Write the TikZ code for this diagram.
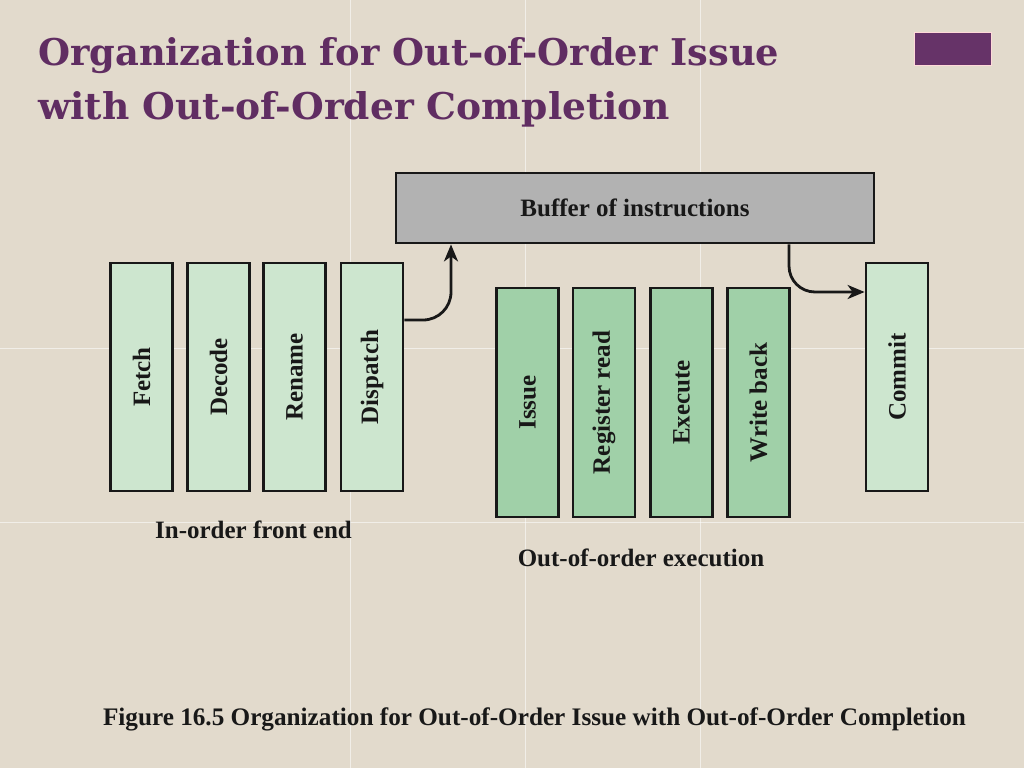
\documentclass[tikz,border=0pt]{standalone}
\usepackage{fontspec}
\setmainfont{Liberation Serif}
\newfontfamily\titlefont{DejaVu Serif}
\usetikzlibrary{arrows.meta}
\definecolor{bgcol}{RGB}{226,218,204}
\definecolor{titlecol}{RGB}{96,45,98}
\definecolor{sqcol}{RGB}{102,51,104}
\definecolor{frontcol}{RGB}{205,230,207}
\definecolor{ooocol}{RGB}{160,208,168}
\definecolor{bufcol}{RGB}{178,178,178}
\definecolor{inkcol}{RGB}{24,24,24}
\tikzset{
  stagebox/.style={draw=inkcol, line width=2.8pt, inner sep=0pt, rotate=90,
    minimum width=228pt, minimum height=62pt, text=inkcol,
    font=\fontsize{25}{29}\selectfont\bfseries},
  frontbox/.style={stagebox, fill=frontcol},
  ooobox/.style={stagebox, fill=ooocol, minimum width=229pt},
  bufbox/.style={draw=inkcol, line width=2.8pt, inner sep=0pt, fill=bufcol,
    minimum width=478pt, minimum height=70pt, text=inkcol,
    font=\fontsize{25}{29}\selectfont\bfseries},
  grouplabel/.style={text=inkcol, inner sep=0pt, anchor=base,
    font=\fontsize{25}{29}\selectfont\bfseries},
  titletext/.style={anchor=base west, inner sep=0pt, text=titlecol},
  arr/.style={draw=inkcol, line width=2.8pt,
    -{Stealth[length=17pt,width=14pt,inset=5pt]}},
  seam/.style={draw=white, line width=1pt, opacity=0.55}
}
\begin{document}
\begin{tikzpicture}[x=1pt,y=1pt]
\fill[bgcol] (0,0) rectangle (1024,-768);
\useasboundingbox (0,0) rectangle (1024,-768);
% background tile seams
\draw[seam] (350,0) -- (350,-768);
\draw[seam] (525,0) -- (525,-768);
\draw[seam] (700,0) -- (700,-768);
\draw[seam] (0,-348) -- (1024,-348);
\draw[seam] (0,-522) -- (1024,-522);
% title
\node[titletext] (t1) at (38,-65)
  {\resizebox{741pt}{28pt}{\titlefont\bfseries Organization for Out-of-Order Issue}};
\node[titletext] (t2) at (38,-119)
  {\resizebox{632pt}{28pt}{\titlefont\bfseries with Out-of-Order Completion}};
\fill[sqcol, draw=pink!60, line width=0.8pt] (914,-32) rectangle (991,-65);
% buffer
\node[bufbox] (buffer) at (635,-208) {Buffer of instructions};
% in-order front end
\node[frontbox] (fetch) at (141.5,-377) {Fetch};
\node[frontbox] (decode) at (218.5,-377) {Decode};
\node[frontbox] (rename) at (294.5,-377) {Rename};
\node[frontbox] (dispatch) at (372,-377) {Dispatch};
% out-of-order
\node[ooobox] (issue) at (527.5,-402.5) {Issue};
\node[ooobox] (regread) at (604,-402.5) {Register read};
\node[ooobox] (execute) at (681.5,-402.5) {Execute};
\node[ooobox] (writeback) at (758.5,-402.5) {Write back};
\node[frontbox] (commit) at (897,-377) {Commit};
% arrows
\draw[arr] ([yshift=57pt]dispatch.south) -- (423,-320)
  to[out=0,in=-90] (451,-292) -- (451,0 |- buffer.south);
\draw[arr] (789,0 |- buffer.south) -- (789,-266)
  to[out=-90,in=180] (815,-292) -- (commit.north |- 0,-292);
% labels
\node[grouplabel] (front) at (253.5,-538) {In-order front end};
\node[grouplabel] (ooo) at (641,-566) {Out-of-order execution};
\node[grouplabel] (caption) at (534.5,-725)
  {\resizebox{863pt}{!}{Figure 16.5 Organization for Out-of-Order Issue with Out-of-Order Completion}};
\end{tikzpicture}
\end{document}
